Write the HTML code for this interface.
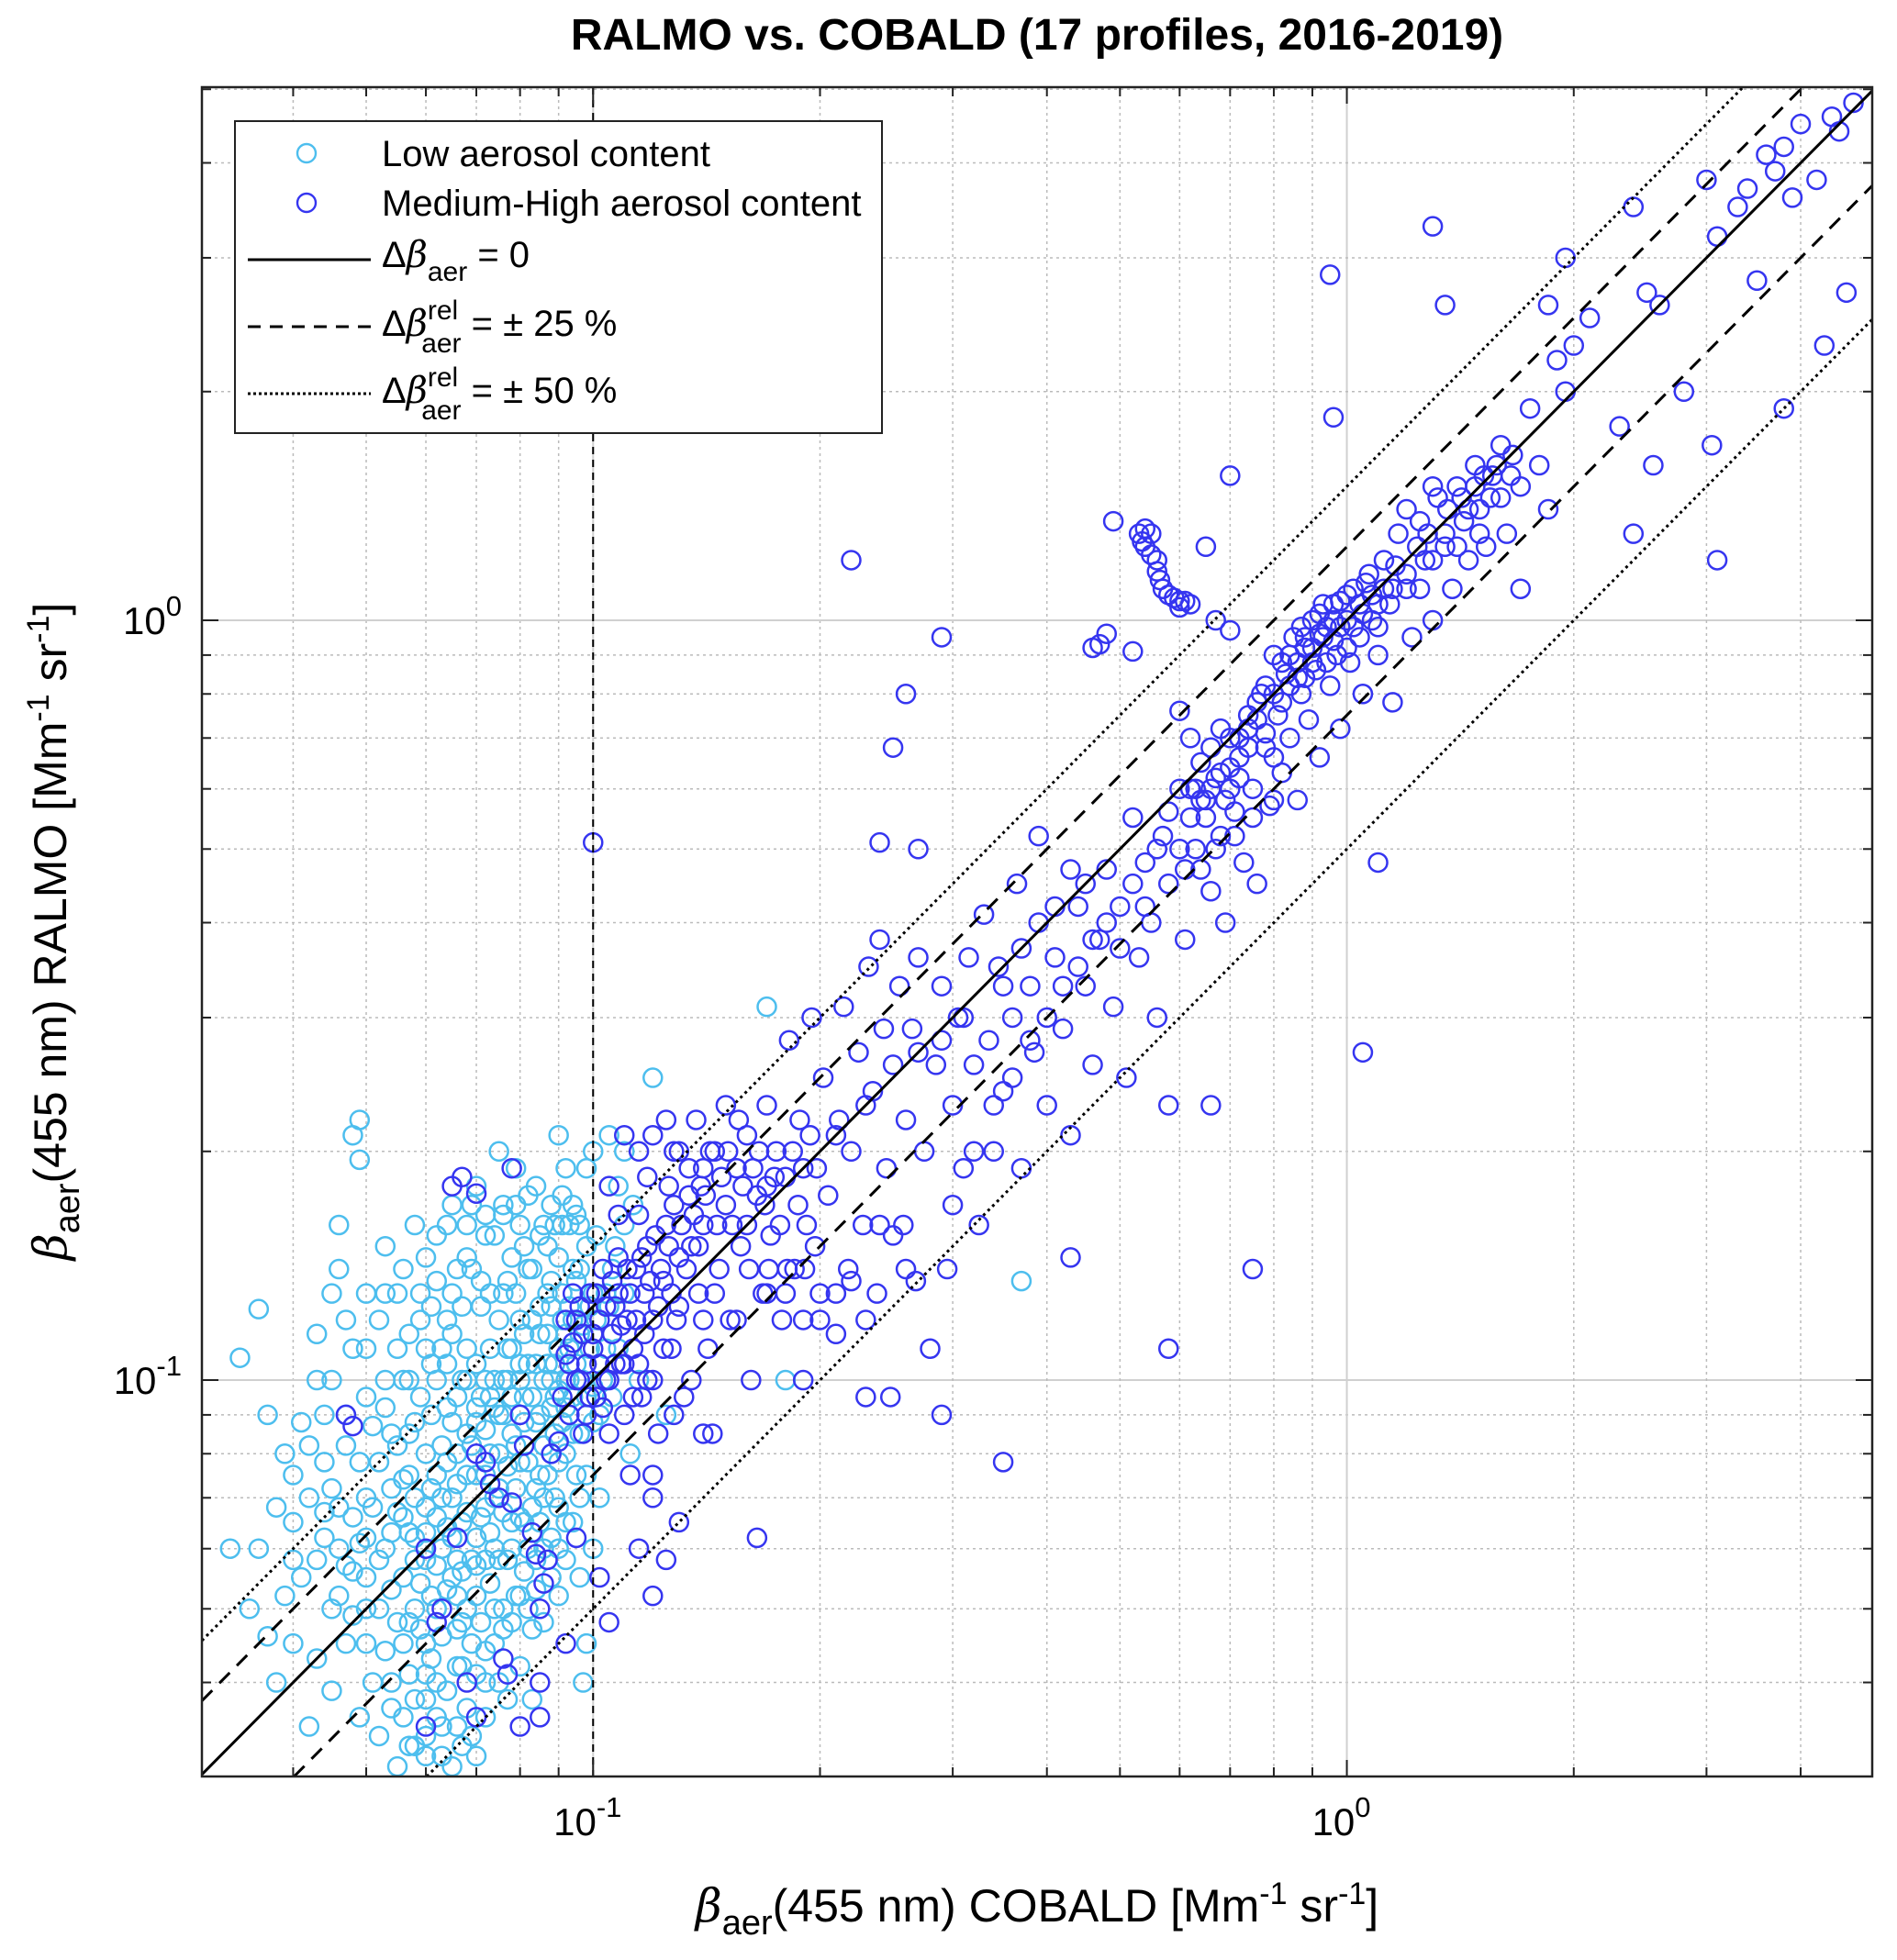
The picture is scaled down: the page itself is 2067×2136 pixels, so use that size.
<!DOCTYPE html>
<html><head><meta charset="utf-8"><style>
html,body{margin:0;padding:0;background:#fff;overflow:hidden;width:2067px;height:2136px;}
svg{display:block;font-family:"Liberation Sans",Arial,sans-serif;}
</style></head><body>
<svg id="chart" width="2067" height="2136" viewBox="0 0 2067 2136" xmlns="http://www.w3.org/2000/svg">
<rect x="0" y="0" width="2067" height="2136" fill="#fff"/>
<text x="1130" y="54" font-size="48" font-weight="bold" text-anchor="middle">RALMO vs. COBALD (17 profiles, 2016-2019)</text>
<g id="grid"></g>
<g id="marks"></g>
<g id="reflines"></g>
<rect x="220" y="95" width="1820" height="1841" fill="none" stroke="#222" stroke-width="2.5"/>
<g id="ticks"></g>
<text transform="translate(72,1015) rotate(-90)" font-size="50" text-anchor="middle"><tspan font-style="italic" font-family="'DejaVu Serif',serif">β</tspan><tspan font-size="38" dy="14">aer</tspan><tspan dy="-14">(455 nm) RALMO [Mm</tspan><tspan font-size="34" dy="-19">-1</tspan><tspan dy="19"> sr</tspan><tspan font-size="34" dy="-19">-1</tspan><tspan dy="19">]</tspan></text>
<text x="1130" y="2094" font-size="50" text-anchor="middle"><tspan font-style="italic" font-family="'DejaVu Serif',serif">β</tspan><tspan font-size="38" dy="14">aer</tspan><tspan dy="-14">(455 nm) COBALD [Mm</tspan><tspan font-size="34" dy="-19">-1</tspan><tspan dy="19"> sr</tspan><tspan font-size="34" dy="-19">-1</tspan><tspan dy="19">]</tspan></text>
<g>
<rect x="256" y="132" width="705" height="340" fill="#fff" stroke="#222" stroke-width="2"/>
<circle cx="334" cy="167" r="10" fill="none" stroke="#4DBEEE" stroke-width="2.4"/>
<text x="416" y="181" font-size="40">Low aerosol content</text>
<circle cx="334" cy="221" r="10" fill="none" stroke="#3535F0" stroke-width="2.4"/>
<text x="416" y="235" font-size="40">Medium-High aerosol content</text>
<line x1="270" y1="283" x2="404" y2="283" stroke="#000" stroke-width="3"/>
<text x="416" y="291" font-size="40">Δ<tspan font-style="italic" font-family="'DejaVu Serif',serif">β</tspan><tspan font-size="30" dy="15">aer</tspan><tspan dy="-15"> = 0</tspan></text>
<line x1="270" y1="356" x2="404" y2="356" stroke="#000" stroke-width="3" stroke-dasharray="14,10"/>
<text x="416" y="366" font-size="40">Δ<tspan font-style="italic" font-family="'DejaVu Serif',serif">β</tspan><tspan font-size="30" dy="-18">rel</tspan><tspan font-size="30" dx="-40" dy="36">aer</tspan><tspan dy="-18"> = ± 25 %</tspan></text>
<line x1="270" y1="429" x2="404" y2="429" stroke="#000" stroke-width="3" stroke-dasharray="3,3"/>
<text x="416" y="439" font-size="40">Δ<tspan font-style="italic" font-family="'DejaVu Serif',serif">β</tspan><tspan font-size="30" dy="-18">rel</tspan><tspan font-size="30" dx="-40" dy="36">aer</tspan><tspan dy="-18"> = ± 50 %</tspan></text>
</g>
</svg>
<script>
const lowData = [[0.033,0.06],[0.034,0.107],[0.036,0.124],[0.035,0.05],[0.037,0.046],[0.038,0.04],[0.04,0.075],[0.04,0.065],[0.041,0.088],[0.042,0.035],[0.043,0.1],[0.043,0.058],[0.044,0.067],[0.045,0.05],[0.045,0.13],[0.046,0.16],[0.046,0.14],[0.047,0.045],[0.048,0.21],[0.049,0.22],[0.049,0.195],[0.048,0.11],[0.05,0.095],[0.05,0.07],[0.05,0.055],[0.051,0.04],[0.052,0.034],[0.052,0.12],[0.053,0.15],[0.054,0.085],[0.054,0.063],[0.055,0.048],[0.056,0.1],[0.056,0.045],[0.057,0.075],[0.058,0.058],[0.058,0.033],[0.059,0.13],[0.06,0.11],[0.06,0.068],[0.061,0.052],[0.061,0.09],[0.062,0.04],[0.063,0.06],[0.063,0.082],[0.064,0.16],[0.064,0.12],[0.065,0.07],[0.065,0.055],[0.066,0.047],[0.066,0.035],[0.067,0.1],[0.067,0.065],[0.068,0.085],[0.068,0.145],[0.069,0.058],[0.07,0.075],[0.07,0.052],[0.07,0.18],[0.071,0.125],[0.071,0.095],[0.072,0.068],[0.072,0.044],[0.073,0.11],[0.073,0.08],[0.074,0.06],[0.074,0.155],[0.075,0.09],[0.075,0.072],[0.076,0.05],[0.076,0.13],[0.077,0.1],[0.077,0.038],[0.078,0.085],[0.078,0.065],[0.079,0.17],[0.08,0.12],[0.08,0.078],[0.081,0.056],[0.081,0.095],[0.082,0.14],[0.082,0.105],[0.083,0.068],[0.083,0.047],[0.084,0.088],[0.085,0.115],[0.085,0.075],[0.086,0.16],[0.086,0.06],[0.087,0.13],[0.088,0.1],[0.088,0.08],[0.089,0.07],[0.09,0.21],[0.09,0.145],[0.09,0.052],[0.091,0.12],[0.092,0.092],[0.092,0.065],[0.093,0.11],[0.094,0.085],[0.094,0.17],[0.095,0.135],[0.095,0.075],[0.096,0.055],[0.097,0.1],[0.097,0.04],[0.098,0.19],[0.099,0.125],[0.1,0.2],[0.1,0.088],[0.101,0.155],[0.102,0.07],[0.104,0.11],[0.106,0.095],[0.108,0.18],[0.11,0.13],[0.112,0.08],[0.115,0.1],[0.12,0.25],[0.125,0.09],[0.17,0.31],[0.18,0.1],[0.37,0.135],[0.058,0.05],[0.06,0.045],[0.062,0.075],[0.064,0.092],[0.066,0.08],[0.058,0.062],[0.056,0.066],[0.054,0.072],[0.06,0.038],[0.063,0.032],[0.067,0.042],[0.069,0.034],[0.072,0.036],[0.075,0.04],[0.08,0.042],[0.083,0.038],[0.052,0.058],[0.05,0.062],[0.048,0.066],[0.046,0.06],[0.044,0.078],[0.042,0.082],[0.047,0.09],[0.053,0.092],[0.057,0.085],[0.059,0.095],[0.061,0.105],[0.065,0.115],[0.068,0.11],[0.07,0.105],[0.073,0.095],[0.077,0.058],[0.079,0.052],[0.081,0.065],[0.084,0.058],[0.086,0.07],[0.088,0.062],[0.09,0.078],[0.092,0.1],[0.093,0.125],[0.094,0.14],[0.096,0.115],[0.098,0.105],[0.085,0.125],[0.087,0.105],[0.089,0.095],[0.078,0.145],[0.076,0.165],[0.072,0.155],[0.066,0.14],[0.062,0.135],[0.057,0.115],[0.055,0.13],[0.05,0.11],[0.045,0.1],[0.041,0.055],[0.043,0.043],[0.039,0.052],[0.036,0.06],[0.045,0.039],[0.049,0.036],[0.054,0.037],[0.057,0.041],[0.06,0.058],[0.062,0.05],[0.064,0.064],[0.066,0.058],[0.068,0.05],[0.07,0.062],[0.072,0.058],[0.074,0.05],[0.06,0.032],[0.055,0.031],[0.065,0.031],[0.098,0.045],[0.1,0.06],[0.102,0.09],[0.104,0.13],[0.107,0.15],[0.11,0.2],[0.105,0.21],[0.113,0.17],[0.09,0.11],[0.088,0.135],[0.091,0.16],[0.079,0.19],[0.075,0.2],[0.069,0.17],[0.082,0.175],
[0.046,0.052],[0.047,0.057],[0.048,0.049],[0.049,0.061],[0.05,0.045],[0.051,0.068],[0.052,0.05],[0.052,0.078],[0.053,0.044],[0.053,0.06],[0.054,0.053],[0.055,0.067],[0.055,0.082],[0.056,0.055],[0.056,0.074],[0.057,0.048],[0.057,0.063],[0.058,0.07],[0.058,0.088],[0.059,0.054],[0.059,0.047],[0.06,0.063],[0.06,0.08],[0.061,0.043],[0.061,0.072],[0.062,0.057],[0.062,0.066],[0.063,0.046],[0.063,0.07],[0.064,0.053],[0.064,0.078],[0.065,0.062],[0.065,0.088],[0.066,0.052],[0.066,0.073],[0.067,0.056],[0.067,0.048],[0.068,0.067],[0.068,0.075],[0.069,0.045],[0.069,0.082],[0.07,0.057],[0.07,0.092],[0.071,0.066],[0.071,0.048],[0.072,0.086],[0.072,0.075],[0.073,0.054],[0.073,0.063],[0.074,0.07],[0.074,0.1],[0.075,0.08],[0.075,0.058],[0.076,0.09],[0.076,0.067],[0.077,0.077],[0.077,0.11],[0.078,0.095],[0.078,0.06],[0.079,0.082],[0.079,0.072],[0.08,0.1],[0.08,0.066],[0.081,0.088],[0.081,0.115],[0.082,0.078],[0.082,0.06],[0.083,0.095],[0.083,0.12],[0.084,0.072],[0.084,0.105],[0.085,0.09],[0.085,0.065],[0.086,0.1],[0.086,0.082],[0.087,0.115],[0.087,0.075],[0.088,0.092],[0.088,0.125],[0.089,0.085],[0.089,0.105],[0.09,0.097],[0.09,0.068],[0.091,0.088],[0.091,0.13],[0.092,0.115],[0.092,0.08],[0.093,0.1],[0.094,0.12],[0.094,0.095],[0.095,0.105],[0.096,0.085],[0.096,0.14],[0.097,0.118],[0.098,0.095],[0.099,0.11],[0.1,0.13],[0.1,0.098],[0.101,0.12],[0.103,0.1],[0.105,0.125],[0.106,0.14],[0.108,0.11],[0.11,0.16],[0.045,0.072],[0.047,0.082],[0.049,0.078],[0.051,0.087],[0.053,0.1],[0.055,0.11],[0.057,0.1],[0.059,0.12],[0.061,0.125],[0.063,0.11],[0.065,0.13],[0.067,0.125],[0.069,0.14],[0.071,0.135],[0.073,0.13],[0.075,0.12],[0.077,0.135],[0.079,0.13],[0.081,0.15],[0.083,0.14],[0.085,0.155],[0.087,0.15],[0.089,0.16],[0.091,0.175],[0.093,0.16],[0.095,0.165],[0.062,0.1],[0.064,0.105],[0.066,0.095],[0.068,0.1],[0.07,0.088],[0.072,0.1],[0.074,0.092],[0.076,0.1],[0.078,0.11],[0.08,0.105],[0.054,0.04],[0.056,0.036],[0.058,0.038],[0.06,0.041],[0.062,0.036],[0.064,0.039],[0.066,0.042],[0.068,0.037],[0.07,0.041],[0.072,0.04],[0.074,0.045],[0.076,0.047],[0.078,0.048],[0.08,0.052],[0.082,0.05],[0.084,0.053],[0.086,0.048],[0.088,0.055],[0.09,0.06],[0.092,0.058],[0.094,0.065],[0.096,0.07],[0.098,0.075],[0.06,0.034],[0.063,0.035],[0.057,0.033],[0.067,0.033],[0.07,0.032],[0.05,0.05],[0.048,0.056],[0.046,0.068],[0.044,0.062],[0.042,0.07],[0.04,0.058],[0.038,0.068],[0.04,0.045],[0.039,0.08],[0.037,0.09],[0.044,0.09],[0.043,0.115],[0.047,0.12],[0.05,0.13],[0.053,0.13],[0.056,0.14],[0.06,0.145],[0.058,0.16],[0.062,0.155],[0.065,0.17],[0.068,0.16],[0.072,0.165],[0.076,0.17],[0.08,0.16],[0.084,0.18],[0.088,0.17],[0.092,0.19],[0.096,0.16],[0.098,0.15]];
const medData = [[0.047,0.09],[0.048,0.087],[0.06,0.06],[0.062,0.048],[0.066,0.062],[0.063,0.05],[0.07,0.08],[0.072,0.078],[0.075,0.07],[0.073,0.073],[0.078,0.069],[0.08,0.09],[0.081,0.082],[0.083,0.063],[0.085,0.05],[0.087,0.058],[0.065,0.18],[0.067,0.185],[0.07,0.176],[0.078,0.19],[0.068,0.04],[0.07,0.036],[0.077,0.041],[0.06,0.035],[0.076,0.043],[0.084,0.059],[0.086,0.054],[0.088,0.08],[0.09,0.083],[0.091,0.095],[0.092,0.108],[0.094,0.112],[0.095,0.12],[0.096,0.1],[0.093,0.09],[0.097,0.085],[0.098,0.105],[0.099,0.13],[0.1,0.11],[0.101,0.095],[0.102,0.12],[0.103,0.14],[0.104,0.1],[0.105,0.085],[0.106,0.115],[0.107,0.125],[0.108,0.13],[0.109,0.105],[0.11,0.09],[0.111,0.12],[0.112,0.075],[0.113,0.11],[0.114,0.14],[0.115,0.165],[0.116,0.095],[0.117,0.13],[0.118,0.15],[0.12,0.12],[0.12,0.1],[0.122,0.085],[0.124,0.135],[0.125,0.16],[0.126,0.18],[0.127,0.11],[0.128,0.2],[0.13,0.145],[0.13,0.125],[0.132,0.095],[0.134,0.175],[0.135,0.15],[0.137,0.22],[0.138,0.13],[0.14,0.19],[0.14,0.16],[0.142,0.11],[0.144,0.085],[0.145,0.2],[0.147,0.14],[0.15,0.23],[0.15,0.17],[0.152,0.12],[0.155,0.19],[0.157,0.15],[0.16,0.21],[0.162,0.1],[0.165,0.175],[0.168,0.13],[0.17,0.23],[0.172,0.155],[0.175,0.2],[0.178,0.12],[0.18,0.185],[0.182,0.28],[0.185,0.14],[0.188,0.22],[0.19,0.1],[0.192,0.16],[0.195,0.3],[0.198,0.19],[0.2,0.13],[0.202,0.25],[0.205,0.175],[0.21,0.115],[0.212,0.22],[0.215,0.31],[0.218,0.14],[0.22,0.2],[0.225,0.27],[0.228,0.16],[0.23,0.095],[0.232,0.35],[0.235,0.24],[0.238,0.13],[0.24,0.38],[0.243,0.29],[0.245,0.19],[0.248,0.095],[0.25,0.26],[0.255,0.33],[0.258,0.16],[0.26,0.22],[0.265,0.29],[0.268,0.135],[0.27,0.36],[0.275,0.2],[0.28,0.11],[0.285,0.26],[0.29,0.33],[0.295,0.14],[0.3,0.23],[0.305,0.3],[0.31,0.19],[0.315,0.36],[0.32,0.26],[0.325,0.16],[0.33,0.41],[0.335,0.28],[0.34,0.2],[0.345,0.35],[0.35,0.24],[0.36,0.3],[0.365,0.45],[0.37,0.19],[0.38,0.33],[0.385,0.27],[0.39,0.52],[0.4,0.23],[0.41,0.36],[0.42,0.29],[0.43,0.21],[0.44,0.42],[0.45,0.33],[0.46,0.26],[0.47,0.38],[0.48,0.47],[0.49,0.31],[0.5,0.42],[0.51,0.25],[0.52,0.55],[0.53,0.36],[0.54,0.48],[0.55,0.4],[0.56,0.3],[0.57,0.52],[0.58,0.45],[0.6,0.6],[0.61,0.38],[0.62,0.55],[0.63,0.5],[0.64,0.47],[0.65,0.58],[0.66,0.44],[0.67,0.62],[0.68,0.52],[0.69,0.4],[0.7,0.7],[0.71,0.56],[0.72,0.66],[0.73,0.48],[0.74,0.72],[0.75,0.6],[0.76,0.45],[0.77,0.8],[0.78,0.68],[0.79,0.57],[0.8,0.9],[0.81,0.75],[0.82,0.63],[0.83,0.85],[0.84,0.7],[0.85,0.95],[0.86,0.58],[0.87,0.8],[0.88,0.92],[0.89,0.74],[0.9,1.0],[0.91,0.86],[0.92,0.66],[0.93,0.95],[0.95,0.82],[0.96,1.05],[0.97,0.9],[0.98,0.72],[1.0,1.0],[1.01,0.88],[1.02,1.1],[1.04,0.95],[1.05,0.8],[1.07,1.15],[1.08,1.0],[1.1,0.9],[1.12,1.2],[1.14,1.05],[1.15,0.78],[1.17,1.3],[1.2,1.1],[1.22,0.95],[1.25,1.35],[1.27,1.2],[1.3,1.0],[1.32,1.45],[1.35,1.25],[1.38,1.1],[1.4,1.5],[1.43,1.35],[1.45,1.2],[1.48,1.6],[1.5,1.4],[1.53,1.25],[1.56,1.55],[1.6,1.45],[1.63,1.3],[1.66,1.65],[1.7,1.5],[1.75,1.9],[1.8,1.6],[1.85,1.4],[1.9,2.2],[1.95,2.0],[2.0,2.3],[1.85,2.6],[2.1,2.5],[1.95,3.0],[2.3,1.8],[2.4,3.5],[2.5,2.7],[2.55,1.6],[2.6,2.6],[2.8,2.0],[3.0,3.8],[3.05,1.7],[3.1,3.2],[3.3,3.5],[3.4,3.7],[3.5,2.8],[3.6,4.1],[3.7,3.9],[3.8,4.2],[3.9,3.6],[4.0,4.5],[4.2,3.8],[4.4,4.6],[4.5,4.4],[4.6,2.7],[4.7,4.8],[4.3,2.3],[3.8,1.9],[3.1,1.2],[2.4,1.3],[1.7,1.1],[1.3,3.3],[1.35,2.6],[0.95,2.85],[0.96,1.85],[0.7,1.55],[0.65,1.25],[0.49,1.35],[0.22,1.2],[0.29,0.95],[0.26,0.8],[0.25,0.68],[0.24,0.51],[0.27,0.5],[0.1,0.51],[1.05,0.27],[1.1,0.48],[0.58,0.23],[0.66,0.23],[0.75,0.14],[0.58,0.11],[0.43,0.145],[0.35,0.078],[0.29,0.09],[0.165,0.062],[0.14,0.085],[0.12,0.075],[0.115,0.06],[0.12,0.052],[0.125,0.058],[0.102,0.055],[0.105,0.048],[0.095,0.062],[0.092,0.045],[0.085,0.04],[0.08,0.035],[0.085,0.036],[0.53,1.3],[0.535,1.27],[0.54,1.25],[0.55,1.22],[0.56,1.2],[0.56,1.16],[0.565,1.13],[0.57,1.1],[0.58,1.08],[0.59,1.07],[0.6,1.06],[0.61,1.06],[0.62,1.05],[0.6,1.04],[0.55,1.3],[0.54,1.32],[0.47,0.93],[0.46,0.92],[0.48,0.96],[0.52,0.91],[0.7,0.97],[0.6,0.76],[0.67,1.0],[0.62,0.7],[0.64,0.65],[0.66,0.68],[0.68,0.72],[0.7,0.64],[0.72,0.62],[0.74,0.68],[0.76,0.74],[0.78,0.71],[0.8,0.66],[0.82,0.78],[0.84,0.82],[0.86,0.88],[0.88,0.84],[0.9,0.92],[0.92,0.96],[0.94,0.88],[0.96,0.94],[0.98,0.98],[0.65,0.55],[0.67,0.5],[0.69,0.58],[0.71,0.52],[0.63,0.6],[0.6,0.5],[0.58,0.56],[0.61,0.47],[0.75,0.55],[0.8,0.58],[1.1,1.05],[1.15,1.1],[1.2,1.15],[1.25,1.1],[1.3,1.2],[1.35,1.3],[1.4,1.25],[1.45,1.4],[1.5,1.3],[1.55,1.45],[1.1,0.98],[1.0,0.92],[1.05,1.02],[0.93,1.05],[0.87,0.98],[1.6,1.7],[1.65,1.55],[1.3,1.5],[1.2,1.4],
[0.1,0.115],[0.101,0.13],[0.102,0.105],[0.103,0.092],[0.104,0.125],[0.105,0.1],[0.106,0.135],[0.107,0.105],[0.108,0.145],[0.109,0.118],[0.11,0.105],[0.111,0.14],[0.112,0.13],[0.113,0.095],[0.114,0.12],[0.115,0.105],[0.116,0.145],[0.117,0.115],[0.118,0.1],[0.119,0.135],[0.121,0.155],[0.122,0.125],[0.123,0.14],[0.124,0.11],[0.126,0.15],[0.127,0.13],[0.128,0.17],[0.129,0.12],[0.131,0.16],[0.133,0.14],[0.134,0.19],[0.136,0.165],[0.138,0.15],[0.139,0.18],[0.141,0.175],[0.143,0.2],[0.146,0.16],[0.148,0.185],[0.151,0.2],[0.153,0.16],[0.156,0.22],[0.158,0.18],[0.161,0.14],[0.163,0.19],[0.166,0.2],[0.169,0.17],[0.171,0.14],[0.174,0.185],[0.177,0.16],[0.181,0.14],[0.184,0.2],[0.187,0.17],[0.191,0.14],[0.194,0.21],[0.197,0.15],[0.092,0.12],[0.094,0.13],[0.096,0.125],[0.098,0.09],[0.099,0.095],[0.095,0.1],[0.097,0.115],[0.093,0.105],[0.12,0.21],[0.125,0.22],[0.13,0.2],[0.11,0.21],[0.115,0.2],[0.118,0.185],[0.105,0.18],[0.108,0.165],[0.12,0.07],[0.13,0.065],[0.128,0.09],[0.135,0.1],[0.14,0.12],[0.145,0.13],[0.155,0.12],[0.16,0.16],[0.17,0.13],[0.18,0.13],[0.19,0.12],[0.2,0.12],[0.21,0.13],[0.22,0.135],[0.23,0.12],[0.24,0.16],[0.25,0.155],[0.26,0.14],[0.3,0.17],[0.32,0.2],[0.34,0.23],[0.36,0.25],[0.38,0.28],[0.4,0.3],[0.42,0.33],[0.44,0.35],[0.46,0.38],[0.48,0.4],[0.5,0.37],[0.52,0.45],[0.54,0.42],[0.56,0.5],[0.45,0.45],[0.43,0.47],[0.41,0.42],[0.39,0.4],[0.37,0.37],[0.35,0.33],[0.31,0.3],[0.29,0.28],[0.27,0.27],[0.23,0.23],[0.21,0.21],[0.19,0.19],[0.17,0.18],[0.62,0.6],[0.64,0.58],[0.66,0.6],[0.68,0.63],[0.7,0.6],[0.72,0.7],[0.74,0.75],[0.76,0.78],[0.78,0.82],[0.8,0.8],[0.82,0.88],[0.84,0.9],[0.86,0.84],[0.88,0.95],[0.9,0.88],[0.92,1.02],[0.94,0.98],[0.96,1.0],[0.98,1.06],[1.0,1.08],[1.02,0.98],[1.04,1.05],[1.06,1.12],[1.08,1.08],[1.12,1.1],[1.16,1.18],[1.24,1.25],[1.28,1.3],[1.36,1.4],[1.42,1.45],[1.48,1.5],[1.52,1.55],[1.58,1.6]];
const refFactors = [1, 1.25, 0.75, 1.5, 0.5];
const refStyles = ['solid', 'dashed', 'dashed', 'dotted', 'dotted'];
const majorTicks = [0.1, 1];
const majorLabels = ['-1', '0'];
const xRange = [Math.pow(10,-1.519), Math.pow(10,0.697)];
const yRange = [Math.pow(10,-1.5217), Math.pow(10,0.7017)];

const PL=220, PT=95, PW=1820, PH=1841;
const NS='http://www.w3.org/2000/svg';
function xS(v){const a=Math.log10(xRange[0]),b=Math.log10(xRange[1]);return PL+(Math.log10(v)-a)/(b-a)*PW;}
function yS(v){const a=Math.log10(yRange[0]),b=Math.log10(yRange[1]);return PT+PH-(Math.log10(v)-a)/(b-a)*PH;}
function mk(tag,attrs,parent){const e=document.createElementNS(NS,tag);for(const k in attrs)e.setAttribute(k,attrs[k]);parent.appendChild(e);return e;}

const grid=document.getElementById('grid');
const ticks=document.getElementById('ticks');
for(let d=-2; d<=1; d++){
  for(let m=1;m<=9;m++){
    const v=m*Math.pow(10,d);
    if(v>=xRange[0]&&v<=xRange[1]){
      const x=xS(v);
      const g=mk('line',{x1:x,y1:PT,x2:x,y2:PT+PH,stroke:m===1?'#d0d0d0':'#bbbbbb','stroke-width':m===1?2:1.5,'stroke-dasharray':m===1?'none':'3,4'},grid);
      
      
      const L=m===1?18:10;
      const t1=mk('line',{x1:x,y1:PT+PH,x2:x,y2:PT+PH-L,stroke:'#222','stroke-width':2},ticks);
      
      
      const t2=mk('line',{x1:x,y1:PT,x2:x,y2:PT+L,stroke:'#222','stroke-width':2},ticks);
      
      
    }
    if(v>=yRange[0]&&v<=yRange[1]){
      const y=yS(v);
      const g=mk('line',{x1:PL,y1:y,x2:PL+PW,y2:y,stroke:m===1?'#d0d0d0':'#bbbbbb','stroke-width':m===1?2:1.5,'stroke-dasharray':m===1?'none':'3,4'},grid);
      
      
      const L=m===1?18:10;
      const t1=mk('line',{x1:PL,y1:y,x2:PL+L,y2:y,stroke:'#222','stroke-width':2},ticks);
      
      
      const t2=mk('line',{x1:PL+PW,y1:y,x2:PL+PW-L,y2:y,stroke:'#222','stroke-width':2},ticks);
      
      
    }
  }
}
majorTicks.forEach((v,i)=>{
  const tx=mk('text',{x:xS(v)-6,y:PT+PH+64,'font-size':42,'text-anchor':'middle'},ticks);
  
  
  tx.innerHTML='10<tspan font-size="31" dy="-20">'+majorLabels[i]+'</tspan>';
  const ty=mk('text',{x:PL-22,y:yS(v)+15,'font-size':42,'text-anchor':'end'},ticks);
  
  
  ty.innerHTML='10<tspan font-size="31" dy="-20">'+majorLabels[i]+'</tspan>';
});

const marks=document.getElementById('marks');
lowData.forEach(p=>{
  const c=mk('circle',{cx:xS(p[0]),cy:yS(p[1]),r:10,fill:'none',stroke:'#4DBEEE','stroke-width':2.5},marks);
  
  
});
medData.forEach(p=>{
  const c=mk('circle',{cx:xS(p[0]),cy:yS(p[1]),r:10,fill:'none',stroke:'#3535F0','stroke-width':2.5},marks);
  
  
});

const ref=document.getElementById('reflines');
const vl=mk('line',{x1:xS(0.1),y1:PT,x2:xS(0.1),y2:PT+PH,stroke:'#000','stroke-width':2,'stroke-dasharray':'8,6'},ref);


refFactors.forEach((f,i)=>{
  const x0=Math.max(xRange[0], yRange[0]/f), x1=Math.min(xRange[1], yRange[1]/f);
  const st=refStyles[i];
  const l=mk('line',{x1:xS(x0),y1:yS(x0*f),x2:xS(x1),y2:yS(x1*f),stroke:'#000','stroke-width':3,'stroke-dasharray':st==='dashed'?'16,11':(st==='dotted'?'3,4':'none')},ref);
  
  
});
</script>
</body></html>
